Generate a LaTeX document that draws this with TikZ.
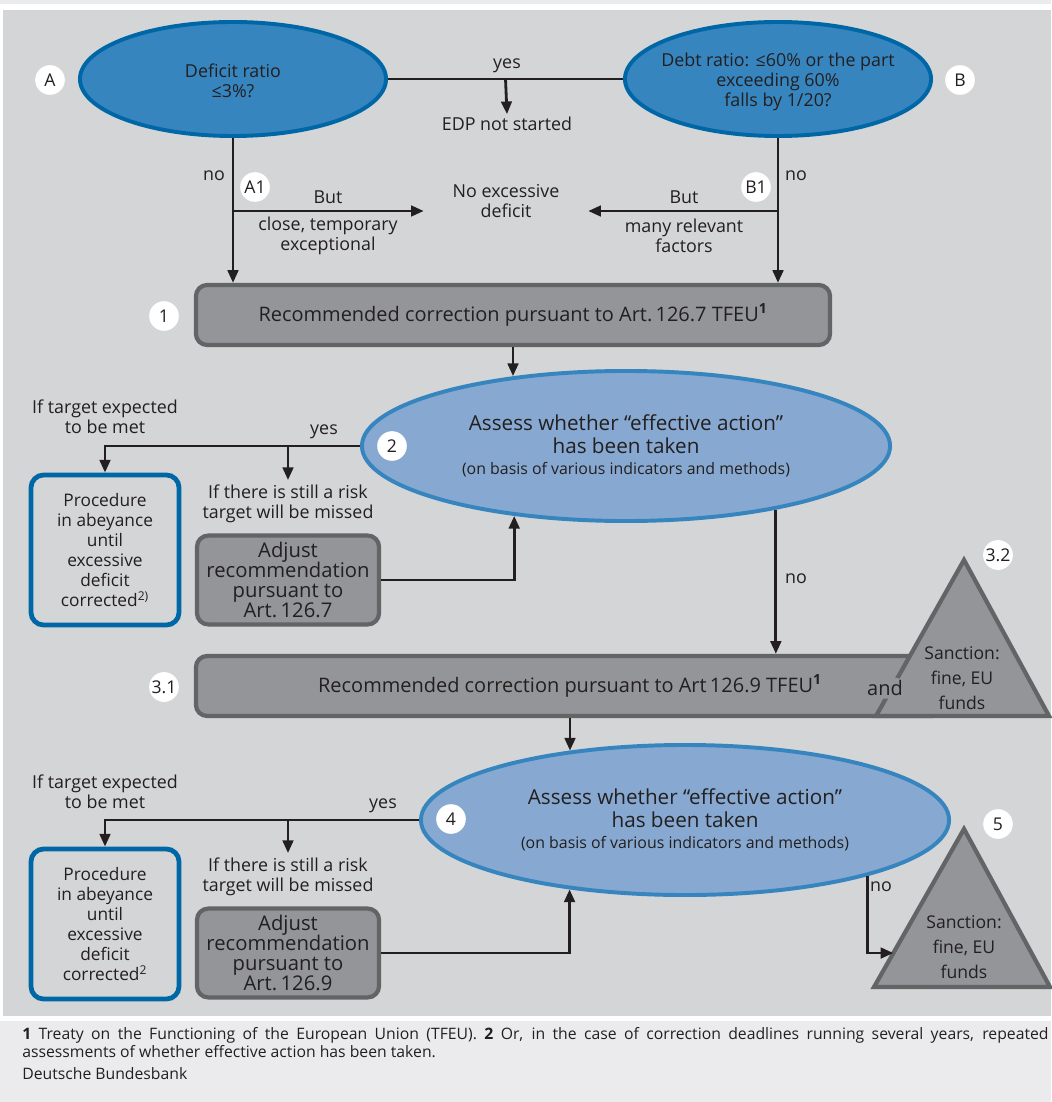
\documentclass[tikz,border=0pt]{standalone}
\usepackage{fontspec}
\setmainfont{Open Sans}
\usetikzlibrary{arrows.meta,positioning,calc,shapes.geometric}

\definecolor{panel}{HTML}{D4D5D7}
\definecolor{pale}{HTML}{EBEBED}
\definecolor{deepblue}{HTML}{0067A7}
\definecolor{midblue}{HTML}{3785BF}
\definecolor{softblue}{HTML}{87A9D1}
\definecolor{boxfill}{HTML}{939598}
\definecolor{boxedge}{HTML}{636466}
\definecolor{ink}{HTML}{231F20}

\tikzset{
  every node/.style={text=ink},
  flow/.style={draw=ink,line width=2pt,-{Triangle[length=9pt,width=7.5pt]}},
  lbl/.style={align=center,font=\fontsize{12.7}{14.2}\selectfont},
  question/.style={ellipse,draw=deepblue,fill=midblue,line width=2.8pt,minimum width=7.65cm,minimum height=2.85cm},
  assess/.style={ellipse,draw=midblue,fill=softblue,line width=2.8pt,minimum width=13.2cm,minimum height=3.75cm,align=center,font=\fontsize{14.7}{16.3}\selectfont},
  recbox/.style={rectangle,rounded corners=8pt,draw=boxedge,fill=boxfill,line width=3pt,minimum height=1.5cm,font=\fontsize{14.2}{16}\selectfont},
  adjbox/.style={rectangle,rounded corners=8pt,draw=boxedge,fill=boxfill,line width=3pt,minimum width=4.55cm,minimum height=2.22cm,inner sep=0pt,align=center,font=\fontsize{14.4}{14.4}\selectfont},
  abeybox/.style={rectangle,rounded corners=9pt,draw=deepblue,fill=panel,line width=3.4pt,minimum width=3.7cm,minimum height=3.75cm,inner sep=0pt,align=center,font=\fontsize{12.3}{14.2}\selectfont},
  sanction/.style={draw=boxedge,fill=boxfill,line width=3pt,line join=miter},
  tag/.style={circle,fill=white,inner sep=0.5pt,minimum size=0.74cm,font=\fontsize{12.5}{13}\selectfont},
}

\begin{document}
\begin{tikzpicture}[x=0.025cm,y=-0.025cm]
  \useasboundingbox (0,0) rectangle (1051,1102);
  \fill[pale] (0,0) rectangle (1051,4);
  \fill[panel] (3,10) rectangle (1051,1016);
  \fill[pale] (0,1021) rectangle (1051,1102);

  % entry tests
  \node[question] (defA) at (233,79) {};
  \node[lbl] (defAtxt) at (233,81) {Deficit ratio\\≤3\%?};
  \node[question] (debtB) at (778,79) {};
  \node[lbl] (debtBtxt) at (778,82) {Debt ratio: ≤60\% or the part\\exceeding 60\%\\falls by 1/20?};
  \coordinate (yesmid) at ($(defA.east)!0.5!(debtB.west)$);
  \draw[draw=ink,line width=2pt] (defA.east) -- (debtB.west);
  \node[lbl] (yes0) at (507,66) {yes};
  \node[lbl] (edp) at (507,124) {EDP not started};
  \draw[flow] (yesmid) -- ($(edp.north)+(0,2)$);

  % no excessive deficit
  \node[lbl] (nexc) at (506,201) {No excessive\\deficit};
  \coordinate (a1) at (233,211);
  \coordinate (b1) at (778,211);
  \node[lbl] (noA) at (214,176) {no};
  \node[lbl] (noB) at (796,176) {no};
  \node[lbl] (butA) at (328,197) {But};
  \node[lbl] (butB) at (684,197) {But};
  \node[lbl] (whyA) at (328,236) {close, temporary\\exceptional};
  \node[lbl] (whyB) at (684,236) {many relevant\\factors};
  \draw[flow] (a1) -- ($(a1 -| nexc.west)+(-24,0)$);
  \draw[flow] (b1) -- ($(b1 -| nexc.east)+(24,0)$);

  % step 1
  \node[recbox,minimum width=15.85cm] (rec1) at (513,315) {Recommended correction pursuant to Art.\,126.7 TFEU\textsuperscript{\bfseries 1}};
  \draw[flow] (defA.south) -- (defA.south |- rec1.north);
  \draw[flow] (debtB.south) -- (debtB.south |- rec1.north);

  % step 2
  \node[assess] (assess2) at (626,446) {Assess whether “effective action”\\has been taken\\[-1.5pt] \fontsize{11.3}{13}\selectfont(on basis of various indicators and methods)};
  \draw[flow] (rec1.south) -- (rec1.south |- assess2.148);
  \node[abeybox] (abey1) at (105,550) {Procedure\\in abeyance\\until\\excessive\\deficit\\corrected\textsuperscript{2)}};
  \node[lbl] (met1) at (105,417) {If target expected\\to be met};
  \node[lbl] (risk1) at (288,504) {If there is still a risk\\target will be missed};
  \node[adjbox] (adj1) at (288,580) {Adjust\\recommendation\\pursuant to\\Art.\,126.7};
  \draw[flow] (assess2.west) -| (abey1.north);
  \draw[flow] (risk1.north |- assess2.west) -- (risk1.north);
  \node[lbl] (yes2) at (324,432) {yes};
  \draw[flow] (adj1.east) -| (assess2.212);

  % step 3
  \node[recbox,minimum width=18.7cm] (rec31) at (570,686) {Recommended correction pursuant to Art\,126.9 TFEU\textsuperscript{\bfseries 1}};
  \draw[flow] (assess2.337) -- (assess2.337 |- rec31.north);
  \node[lbl] (no2) at (796,579) {no};
  \coordinate (t32top) at (964,560);
  \coordinate (t32l) at (876,716);
  \coordinate (t32r) at (1049,716);
  \draw[sanction] (t32top) -- (t32l) -- (t32r) -- cycle;
  \node[recbox,draw=none,minimum height=0pt,inner sep=2pt] (andtxt) at (885,688) {and};
  \node[lbl,font=\fontsize{12.5}{17.7}\selectfont] (sanc32) at (962,678) {Sanction:\\fine, EU\\funds};

  % step 4
  \node[assess] (assess4) at (685,820) {Assess whether “effective action”\\has been taken\\[-1.5pt] \fontsize{11.3}{13}\selectfont(on basis of various indicators and methods)};
  \draw[flow] (rec31.south) -- (rec31.south |- assess4.149);
  \node[abeybox] (abey2) at (105,924) {Procedure\\in abeyance\\until\\excessive\\deficit\\corrected\textsuperscript{2}};
  \node[lbl] (met2) at (105,792) {If target expected\\to be met};
  \node[lbl] (risk2) at (288,877) {If there is still a risk\\target will be missed};
  \node[adjbox] (adj2) at (288,953) {Adjust\\recommendation\\pursuant to\\Art.\,126.9};
  \draw[flow] (assess4.west) -| (abey2.north);
  \draw[flow] (risk2.north |- assess4.west) -- (risk2.north);
  \node[lbl] (yes4) at (383,806) {yes};
  \draw[flow] (adj2.east) -| (assess4.211);

  % step 5
  \coordinate (t5top) at (964,829);
  \coordinate (t5l) at (874,987);
  \coordinate (t5r) at (1050,987);
  \draw[sanction] (t5top) -- (t5l) -- (t5r) -- cycle;
  \coordinate (s5in) at ($(t5top)!0.785!(t5l)$);
  \node[lbl,font=\fontsize{12.5}{17.7}\selectfont] (sanc5) at (964,947) {Sanction:\\fine, EU\\funds};
  \draw[flow] (assess4.343) |- (s5in);
  \node[lbl] (no4) at (881,887) {no};

  % numbered tags
  \foreach \n/\x/\y/\t in {tA/50/80/A, tB/960/80/B, tA1/255/187/A1, tB1/756/187/B1,
      t1/164/316/1, t2/392/446/2, t31/164/687/3.1, t32/998/555/3.2, t4/451/819/4, t5/998/824/5}
    \node[tag] (\n) at (\x,\y) {\t};

  % footnotes
  \node[anchor=north west,text width=25.65cm,align=justify,inner sep=0pt,
        font=\fontsize{11.2}{12.8}\selectfont] (fn) at (22,1027) {\textbf{1} Treaty on the Functioning of the European Union (TFEU). \textbf{2} Or, in the case of correction deadlines running several years, repeated\linebreak assessments of whether effective action has been taken.};
  \node[anchor=west,inner sep=0pt,font=\fontsize{11.2}{12.8}\selectfont] (src) at (22,1074) {Deutsche Bundesbank};
\end{tikzpicture}
\end{document}
